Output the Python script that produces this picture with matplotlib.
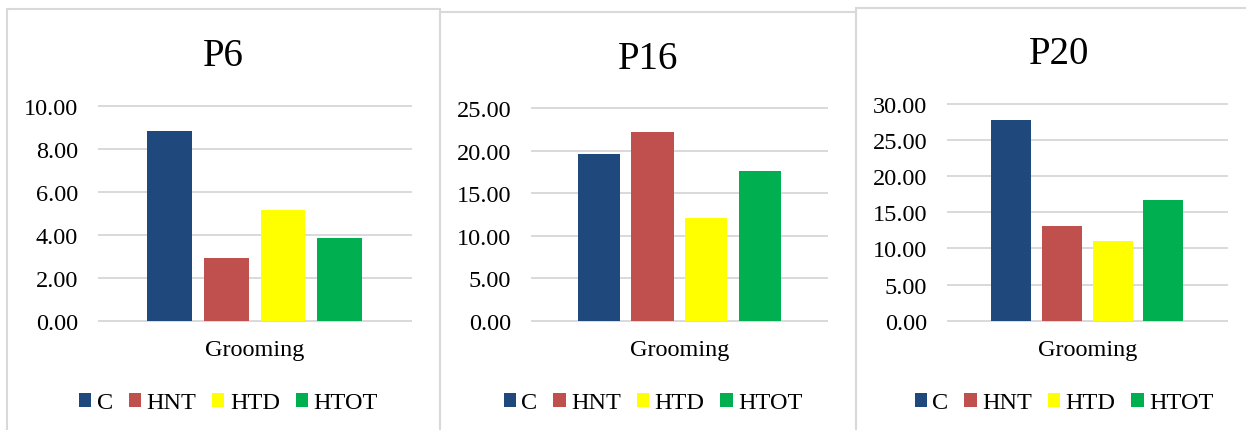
import numpy as np
import matplotlib
matplotlib.use("Agg")
import matplotlib.pyplot as plt
from matplotlib.patches import Rectangle, Patch
from matplotlib.ticker import FormatStrFormatter, MultipleLocator

plt.rcParams["font.family"] = ["Liberation Serif", "DejaVu Serif"]

W, H = 1246, 431

groups = ["C", "HNT", "HTD", "HTOT"]
colors = ["#1F497D", "#C0504D", "#FFFF00", "#00B050"]
category = "Grooming"

titles = ["P6", "P16", "P20"]
p6_values = [8.82, 2.93, 5.15, 3.85]
p16_values = [19.63, 22.22, 12.10, 17.63]
p20_values = [27.80, 13.10, 11.05, 16.70]
y_max = [10, 25, 30]
y_step = [2, 5, 5]

panel_values = [p6_values, p16_values, p20_values]

# layout in pixels: chart frame (left, top, right), plot area (left, top, right, bottom), title baseline
frames = [(7, 10, 440), (440, 13, 856), (856, 9, 1262)]
plots = [(98.7, 106.7, 410.7, 321.7), (532, 109.3, 826.7, 321.7), (948, 105, 1226.7, 321.7)]
title_base = [65.5, 69.2, 64.3]

GRID = "#D9D9D9"
FS = 17.5


def fx(px):
    return px / W


def fy(py):
    return 1 - py / H


fig = plt.figure(figsize=(W / 100, H / 100), dpi=100)
fig.patch.set_facecolor("white")

spacing = 0.1817
bar_w = 0.1435
offsets = (np.arange(len(groups)) - (len(groups) - 1) / 2) * spacing

for i in range(3):
    fl, ft, fr = frames[i]
    fig.patches.append(Rectangle((fx(fl), fy(H + 20)), fx(fr - fl), fy(ft) - fy(H + 20),
                                 transform=fig.transFigure, fill=False,
                                 edgecolor=GRID, linewidth=1.5, zorder=0))

    l, t, r, b = plots[i]
    ax = fig.add_axes([fx(l), fy(b), fx(r - l), fy(t) - fy(b)])
    ax.bar(offsets, panel_values[i], width=bar_w, color=colors, zorder=2)
    ax.set_xlim(-0.5, 0.5)
    ax.set_ylim(0, y_max[i])
    ax.yaxis.set_major_locator(MultipleLocator(y_step[i]))
    ax.yaxis.set_major_formatter(FormatStrFormatter("%.2f"))
    ax.set_xticks([0])
    ax.set_xticklabels([category])
    ax.tick_params(axis="y", length=0, pad=15, labelsize=FS)
    ax.tick_params(axis="x", length=0, pad=13, labelsize=FS)
    ax.grid(axis="y", color=GRID, linewidth=1.4, zorder=1)
    ax.set_axisbelow(True)
    for line in ax.get_ygridlines():
        line.set_clip_on(False)
    for s in ax.spines.values():
        s.set_visible(False)
    ax.patch.set_visible(False)

    cx = (fl + fr) / 2
    fig.text(fx(cx), fy(title_base[i]), titles[i], fontsize=28,
             ha="center", va="baseline")

    handles = [Patch(facecolor=c, edgecolor="none") for c in colors]
    fig.legend(handles, groups, loc="center", bbox_to_anchor=(fx(cx + 5), fy(404)),
               ncol=4, frameon=False, fontsize=FS, handlelength=0.5,
               handleheight=0.5, handletextpad=0.22, columnspacing=0.66,
               borderaxespad=0, borderpad=0)

fig.savefig("out.png", dpi=100, facecolor="white")
